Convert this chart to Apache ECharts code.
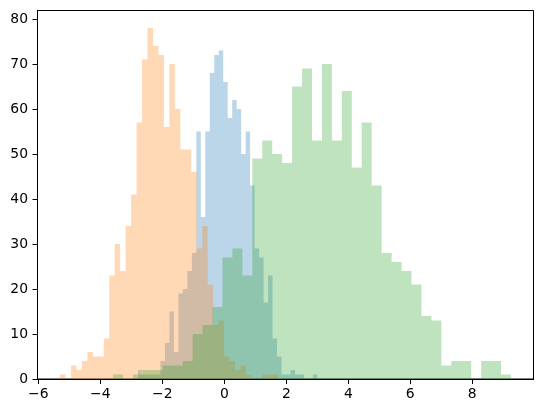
<!DOCTYPE html>
<html>
<head>
<meta charset="utf-8">
<script src="https://cdn.jsdelivr.net/npm/echarts@6/dist/echarts.min.js"></script>
<style>
html,body{margin:0;padding:0;background:#fff;}
#chart{width:543px;height:413px;}
</style>
</head>
<body>
<div id="chart"></div>
<script>
// Histogram data (40 bins each), bin range [first edge, last edge]
const blueRange = [-2.784, 3.003];
const blueCounts = [2,1,1,1,1,4,8,15,6,19,20,24,28,55,36,55,68,72,73,66,58,62,60,50,55,43,29,27,17,23,9,5,1,1,2,1,1,0,0,1];

const orangeRange = [-5.300, 1.755];
const orangeCounts = [1,0,3,2,4,6,5,5,9,23,30,24,34,41,57,71,78,74,72,56,70,60,51,51,46,29,34,21,12,13,5,4,2,3,1,0,0,1,1,1];

const greenRange = [-3.590, 9.248];
const greenCounts = [1,0,1,2,2,3,3,4,10,12,16,27,29,23,49,53,50,48,65,69,53,70,53,64,47,57,43,28,26,24,21,14,13,3,4,4,0,4,4,1];

const xTicks = [-6,-4,-2,0,2,4,6,8];
const yTicks = [0,10,20,30,40,50,60,70,80];

const xLimits = [-6.027, 9.975];
const yLimits = [0, 81.9];

function stepRender(range, counts, color) {
  return function (params, api) {
    const n = counts.length;
    const w = (range[1] - range[0]) / n;
    const pts = [api.coord([range[0], 0])];
    for (let i = 0; i < n; i++) {
      pts.push(api.coord([range[0] + i * w, counts[i]]));
      pts.push(api.coord([range[0] + (i + 1) * w, counts[i]]));
    }
    pts.push(api.coord([range[1], 0]));
    return {
      type: 'polygon',
      shape: { points: pts },
      style: { fill: color, stroke: null }
    };
  };
}

const fmt = v => String(v).replace('-', '\u2212');
const font = 'DejaVu Sans';

const chart = echarts.init(document.getElementById('chart'), null, { renderer: 'canvas' });
chart.setOption({
  animation: false,
  backgroundColor: '#fff',
  grid: {
    left: 37.5, right: 9.5, top: 10.5, bottom: 34,
    show: true, borderColor: '#000', borderWidth: 1, backgroundColor: 'transparent'
  },
  xAxis: {
    type: 'value',
    min: xLimits[0], max: xLimits[1],
    axisLine: { show: true, onZero: false, lineStyle: { color: '#000', width: 1 } },
    axisTick: { show: true, length: 5, customValues: xTicks, lineStyle: { color: '#000', width: 1 } },
    axisLabel: { customValues: xTicks, formatter: fmt, color: '#000', fontFamily: font, fontSize: 13.9, margin: 8 },
    splitLine: { show: false }
  },
  yAxis: {
    type: 'value',
    min: yLimits[0], max: yLimits[1],
    axisLine: { show: true, onZero: false, lineStyle: { color: '#000', width: 1 } },
    axisTick: { show: true, length: 5, customValues: yTicks, lineStyle: { color: '#000', width: 1 } },
    axisLabel: { customValues: yTicks, formatter: fmt, color: '#000', fontFamily: font, fontSize: 13.9, margin: 9.5 },
    splitLine: { show: false }
  },
  series: [
    { type: 'custom', renderItem: stepRender(blueRange, blueCounts, 'rgba(31,119,180,0.3)'), data: [[blueRange[0], 0]], silent: true, clip: true },
    { type: 'custom', renderItem: stepRender(orangeRange, orangeCounts, 'rgba(255,127,14,0.3)'), data: [[orangeRange[0], 0]], silent: true, clip: true },
    { type: 'custom', renderItem: stepRender(greenRange, greenCounts, 'rgba(44,160,44,0.3)'), data: [[greenRange[0], 0]], silent: true, clip: true }
  ]
});
</script>
</body>
</html>
